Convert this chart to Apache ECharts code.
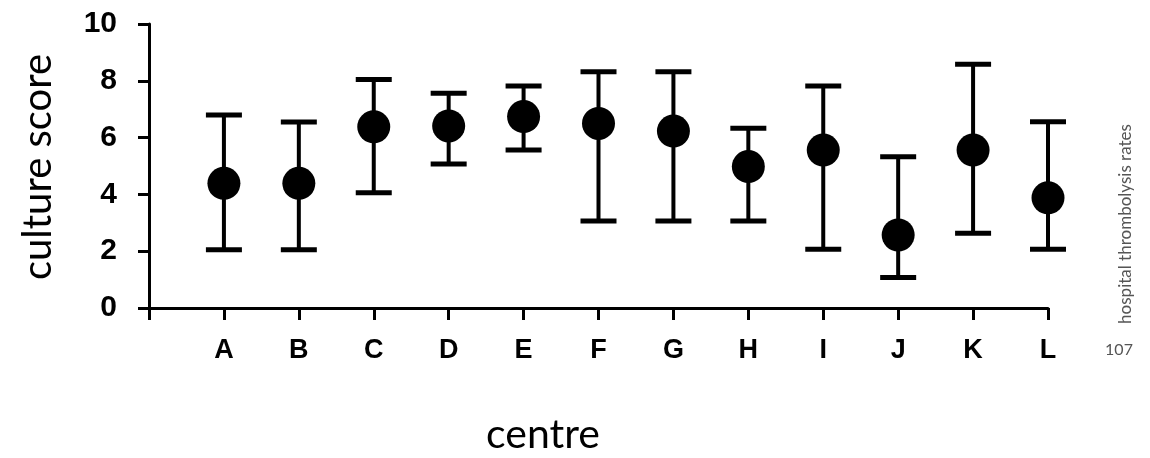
<!DOCTYPE html>
<html>
<head>
<meta charset="utf-8">
<script src="https://cdn.jsdelivr.net/npm/echarts@6/dist/echarts.min.js"></script>
<style>html,body{margin:0;padding:0;background:#fff}#c{width:1150px;height:458px}</style>
</head>
<body>
<div id="c"></div>
<script>
var categories = ['', 'A', 'B', 'C', 'D', 'E', 'F', 'G', 'H', 'I', 'J', 'K', 'L'];
var centres = ['A', 'B', 'C', 'D', 'E', 'F', 'G', 'H', 'I', 'J', 'K', 'L'];
var means = [4.39, 4.39, 6.38, 6.41, 6.74, 6.50, 6.23, 4.98, 5.56, 2.57, 5.56, 3.88];
var lows  = [2.05, 2.05, 4.06, 5.07, 5.56, 3.06, 3.06, 3.06, 2.07, 1.07, 2.63, 2.07];
var highs = [6.80, 6.55, 8.05, 7.56, 7.82, 8.32, 8.32, 6.33, 7.82, 5.33, 8.58, 6.56];
var yTicks = [0, 2, 4, 6, 8, 10];

var errData = centres.map(function (c, i) { return [c, lows[i], highs[i]]; });
var meanData = centres.map(function (c, i) { return [c, means[i]]; });

var chart = echarts.init(document.getElementById('c'));
chart.setOption({
  animation: false,
  backgroundColor: '#ffffff',
  grid: { left: 149, right: 102, top: 24, bottom: 150, containLabel: false },
  xAxis: {
    type: 'category',
    data: categories,
    boundaryGap: false,
    axisLine: { show: true, lineStyle: { color: '#000', width: 3 } },
    axisTick: { show: true, inside: false, length: 12, lineStyle: { color: '#000', width: 3 } },
    axisLabel: { color: '#000', fontFamily: 'Liberation Sans', fontWeight: 'bold', fontSize: 27, margin: 29 },
    splitLine: { show: false }
  },
  yAxis: {
    type: 'value',
    min: yTicks[0],
    max: yTicks[yTicks.length - 1],
    interval: 2,
    axisLine: { show: true, lineStyle: { color: '#000', width: 3 } },
    axisTick: { show: true, inside: false, length: 11, lineStyle: { color: '#000', width: 3 } },
    axisLabel: { color: '#000', fontFamily: 'Liberation Sans', fontWeight: 'bold', fontSize: 30, margin: 32 },
    splitLine: { show: false }
  },
  series: [
    {
      type: 'custom',
      data: errData,
      z: 2,
      renderItem: function (params, api) {
        var lo = api.coord([api.value(0), api.value(1)]);
        var hi = api.coord([api.value(0), api.value(2)]);
        var hw = 18;
        return {
          type: 'group',
          children: [
            { type: 'line', shape: { x1: hi[0], y1: hi[1], x2: lo[0], y2: lo[1] }, style: { stroke: '#000', lineWidth: 4 } },
            { type: 'line', shape: { x1: hi[0] - hw, y1: hi[1], x2: hi[0] + hw, y2: hi[1] }, style: { stroke: '#000', lineWidth: 5 } },
            { type: 'line', shape: { x1: lo[0] - hw, y1: lo[1], x2: lo[0] + hw, y2: lo[1] }, style: { stroke: '#000', lineWidth: 5 } }
          ]
        };
      },
      encode: { x: 0, y: [1, 2] }
    },
    {
      type: 'scatter',
      data: meanData,
      z: 3,
      symbol: 'circle',
      symbolSize: 33,
      itemStyle: { color: '#000', opacity: 1 }
    }
  ],
  graphic: [
    { type: 'text', x: 38, y: 167, rotation: Math.PI / 2,
      style: { text: 'culture score', font: '40px Lato', fill: '#000', textAlign: 'center', textVerticalAlign: 'middle' } },
    { type: 'text', x: 543, y: 435,
      style: { text: 'centre', font: '41px Lato', fill: '#000', textAlign: 'center', textVerticalAlign: 'middle' } },
    { type: 'text', x: 1126, y: 224, rotation: Math.PI / 2,
      style: { text: 'hospital thrombolysis rates', font: '17px Lato', fill: '#555', textAlign: 'center', textVerticalAlign: 'middle' } },
    { type: 'text', x: 1119, y: 350,
      style: { text: '107', font: '16px Lato', fill: '#555', textAlign: 'center', textVerticalAlign: 'middle' } }
  ]
});
</script>
</body>
</html>
